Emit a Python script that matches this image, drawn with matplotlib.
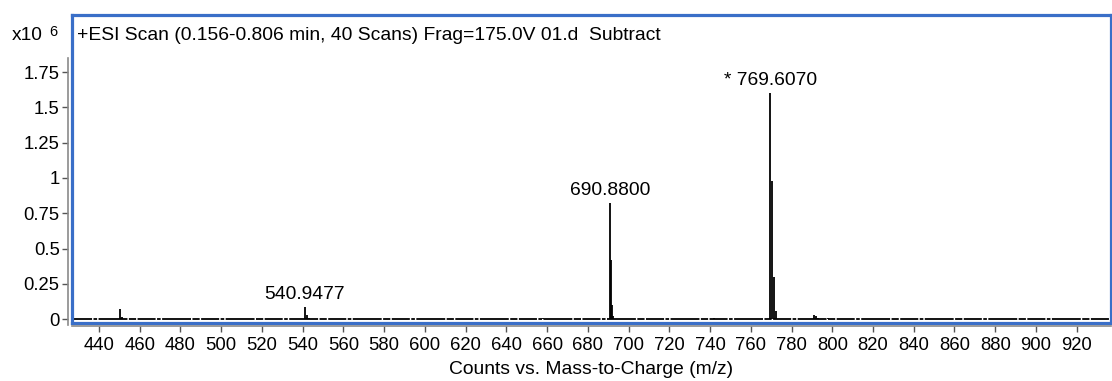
import matplotlib
matplotlib.use("Agg")
import matplotlib.pyplot as plt

plt.rcParams['font.family'] = ['Liberation Sans', 'DejaVu Sans']

# ---- peak list (m/z, counts x10^6) ----
mz = [450.5, 451.5, 540.95, 541.95, 542.9, 658.0, 690.88, 691.38, 691.88,
      692.38, 742.0, 769.607, 770.61, 771.61, 772.61, 791.2, 792.2, 793.2, 797.8]
counts = [0.075, 0.015, 0.085, 0.03, 0.01, 0.006, 0.82, 0.42, 0.10,
          0.02, 0.01, 1.6, 0.98, 0.30, 0.06, 0.03, 0.02, 0.01, 0.01]

label_mz = [540.9477, 690.8800, 769.6070]
label_y = [0.085, 0.82, 1.6]
label_txt = ['540.9477', '690.8800', '* 769.6070']

xticks = list(range(440, 921, 20))
yticks = [0, 0.25, 0.5, 0.75, 1, 1.25, 1.5, 1.75]
yticklabels = ['0', '0.25', '0.5', '0.75', '1', '1.25', '1.5', '1.75']

title = '+ESI Scan (0.156-0.806 min, 40 Scans) Frag=175.0V 01.d  Subtract'
xlab = 'Counts vs. Mass-to-Charge (m/z)'

W, H = 1112, 381
fig = plt.figure(figsize=(W / 100, H / 100), dpi=100)

# axes box in pixels
L, R, T, B = 72, 1110.5, 14.5, 322.5
rect = [L / W, 1 - B / H, (R - L) / W, (B - T) / H]
xlim = (426.75, 936.6)
ylim = (-0.023, 2.157)

blue = '#3a6fc8'
grey = '#8a8a8a'
fs = 13.9

ax = fig.add_axes(rect)
ax.set_xlim(xlim)
ax.set_ylim(ylim)
for s in ax.spines.values():
    s.set_color(blue)
    s.set_linewidth(2.3)
ax.set_xticks([])
ax.set_yticks([])

# baseline noise (broken line at zero)
ax.hlines(0, xlim[0] + 1, xlim[1], color='black', linewidth=1.3,
          linestyles=[(0, (10, 0.8, 2, 0.8, 16, 0.8, 4, 0.8))])
ax.vlines(mz, 0, counts, color='black', linewidth=1.3)

for x, y, t in zip(label_mz, label_y, label_txt):
    ax.annotate(t, (x, y), xytext=(0, 3), textcoords='offset points',
                ha='center', va='bottom', fontsize=fs)

ax.text(5 / (R - L), 1 - (40 - T) / (B - T), title, transform=ax.transAxes,
        fontsize=fs, ha='left', va='baseline')

# grey axis lines with ticks, offset outward from the blue frame
ax2 = fig.add_axes(rect)
ax2.patch.set_visible(False)
ax2.set_xlim(xlim)
ax2.set_ylim(ylim)
ax2.spines['top'].set_visible(False)
ax2.spines['right'].set_visible(False)
for side in ['left', 'bottom']:
    ax2.spines[side].set_color(grey)
    ax2.spines[side].set_linewidth(1.2)
    ax2.spines[side].set_position(('outward', 2.6))
ax2.spines['left'].set_bounds(ylim[0] - 0.02, 1.85)
ax2.set_xticks(xticks)
ax2.set_yticks(yticks)
ax2.set_yticklabels(yticklabels)
ax2.tick_params(axis='both', length=4.3, width=1.0, color='#555555',
                labelsize=13.3, labelcolor='black')
ax2.tick_params(axis='x', pad=3.5)
ax2.tick_params(axis='y', pad=2)
ax2.set_xlabel(xlab, fontsize=fs, labelpad=5)

# exponent marker
fig.text(12 / W, 1 - 40 / H, 'x10', fontsize=13.8, ha='left', va='baseline')
fig.text(49 / W, 1 - 36 / H, '6', fontsize=10.5, ha='left', va='baseline')

fig.savefig('out.png', dpi=100)
